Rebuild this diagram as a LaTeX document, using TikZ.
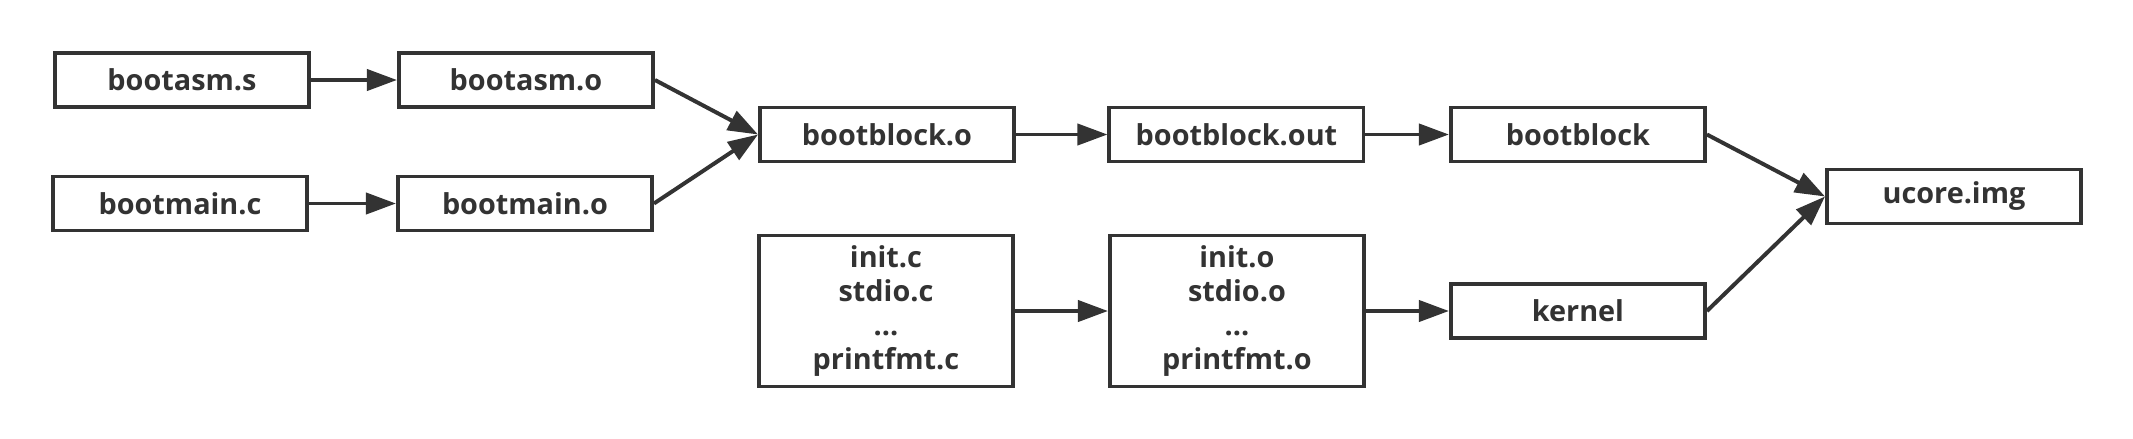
\documentclass[tikz,border=0pt]{standalone}
\usepackage{fontspec}
\setmainfont{Open Sans}
\usepackage{tikz}
\usetikzlibrary{arrows.meta, positioning}
\definecolor{ink}{HTML}{333333}

\begin{document}
\begin{tikzpicture}[
  box/.style={draw=ink, line width=1.13pt, fill=white, minimum width=2.54cm, minimum height=0.54cm, inner sep=0pt, align=center, text=ink, font=\fontsize{8.2}{9.7}\selectfont\bfseries},
  arr/.style={-{Triangle[length=3mm, width=2.1mm]}, draw=ink, fill=ink, line width=1.13pt}
]
\useasboundingbox (0,0) rectangle (21.33,-4.38);
% boot loader part
\node[box] (asms) at (1.82,-0.80) {bootasm.s};
\node[box, right=0.86cm of asms] (asmo) {bootasm.o};
\node[box] (mainc) at (1.80,-2.035) {bootmain.c};
\node[box, right=0.87cm of mainc] (maino) {bootmain.o};
\node[box] (bbo) at (8.87,-1.345) {bootblock.o};
\node[box, right=0.915cm of bbo] (bbout) {bootblock.out};
\node[box, right=0.835cm of bbout] (bb) {bootblock};
% kernel part
\node[box, minimum height=1.51cm] (srcs) at (8.86,-3.11) {init.c\\stdio.c\\...\\printfmt.c};
\node[box, minimum height=1.51cm, right=0.93cm of srcs] (objs) {init.o\\stdio.o\\...\\printfmt.o};
\node[box, right=0.83cm of objs] (kern) {kernel};
\node[box] (img) at (19.54,-1.965) {ucore.img};
\draw[arr] (asms) -- (asmo);
\draw[arr] (mainc) -- (maino);
\draw[arr] (asmo.east) -- (bbo.west);
\draw[arr] (maino.east) -- (bbo.west);
\foreach \a/\b in {bbo/bbout, bbout/bb, srcs/objs, objs/kern}
  \draw[arr] (\a) -- (\b);
\draw[arr] (bb.east) -- (img.west);
\draw[arr] (kern.east) -- (img.west);
\end{tikzpicture}
\end{document}
